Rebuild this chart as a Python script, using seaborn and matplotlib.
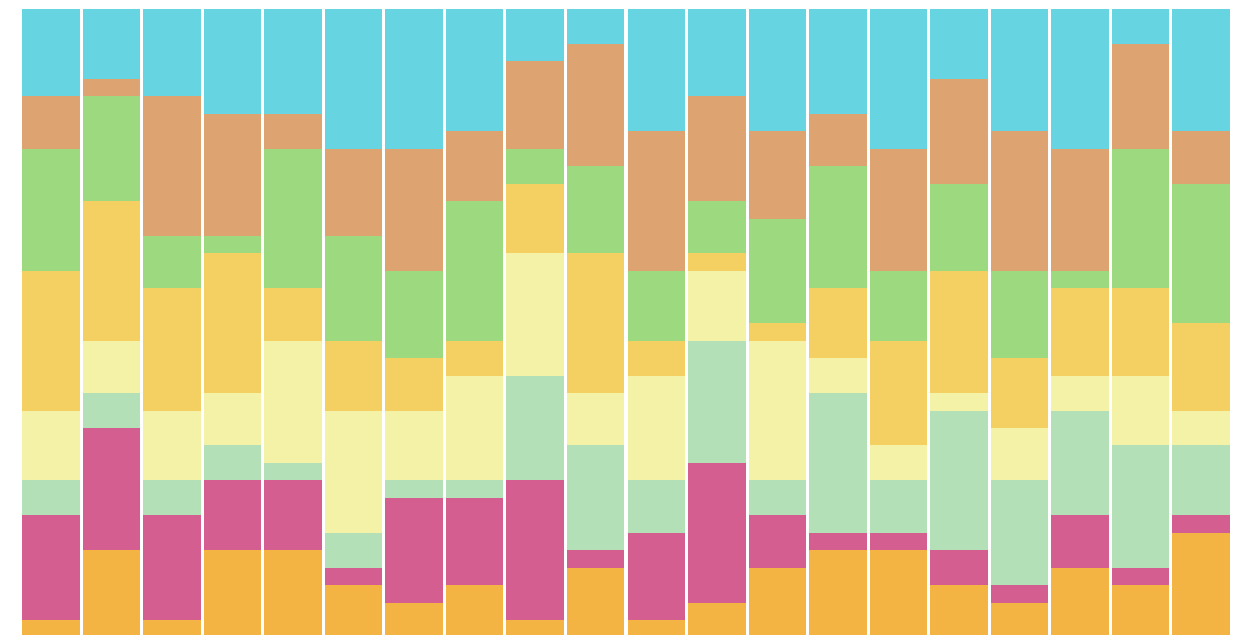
import matplotlib
matplotlib.use("Agg")
import matplotlib.pyplot as plt
import seaborn as sns
import numpy as np
import pandas as pd

bars = [f"B{i+1}" for i in range(20)]
# segment values per bar, bottom-up layers
orange = [1, 5, 1, 5, 5, 3, 2, 3, 1, 4, 1, 2, 4, 5, 5, 3, 2, 4, 3, 6]
pink   = [6, 7, 6, 4, 4, 1, 6, 5, 8, 1, 5, 8, 3, 1, 1, 2, 1, 3, 1, 1]
mint   = [2, 2, 2, 2, 1, 2, 1, 1, 6, 6, 3, 7, 2, 8, 3, 8, 6, 6, 7, 4]
pale   = [4, 3, 4, 3, 7, 7, 4, 6, 7, 3, 6, 4, 8, 2, 2, 1, 3, 2, 4, 2]
yellow = [8, 8, 7, 8, 3, 4, 3, 2, 4, 8, 2, 1, 1, 4, 6, 7, 4, 5, 5, 5]
green  = [7, 6, 3, 1, 8, 6, 5, 8, 2, 5, 4, 3, 6, 7, 4, 5, 5, 1, 8, 8]
tan    = [3, 1, 8, 7, 2, 5, 7, 4, 5, 7, 8, 6, 5, 3, 7, 6, 8, 7, 6, 3]
cyan   = [5, 4, 5, 6, 6, 8, 8, 7, 3, 2, 7, 5, 7, 6, 8, 4, 7, 8, 2, 7]

layers = [orange, pink, mint, pale, yellow, green, tan, cyan]
colors = ["#F3B443", "#D35E8F", "#B3E0B7", "#F3F2A7", "#F3D061",
          "#9DD97F", "#DDA371", "#67D4E2"]

fig = plt.figure(figsize=(12.35, 6.35), dpi=100)
ax = fig.add_axes([20.5/1235, -2.5/635, 1211/1235, 628.5/635])

cum = np.cumsum(np.array(layers), axis=0)
for i in range(len(layers) - 1, -1, -1):
    df = pd.DataFrame({"bar": bars, "value": cum[i]})
    sns.barplot(data=df, x="bar", y="value", color=colors[i], width=0.95,
                saturation=1, ax=ax, linewidth=0, order=bars)

ax.set_xlim(-0.5, 19.5)
ax.set_ylim(0, 36)
ax.axis("off")
fig.savefig("out.png", dpi=100, facecolor="white")
